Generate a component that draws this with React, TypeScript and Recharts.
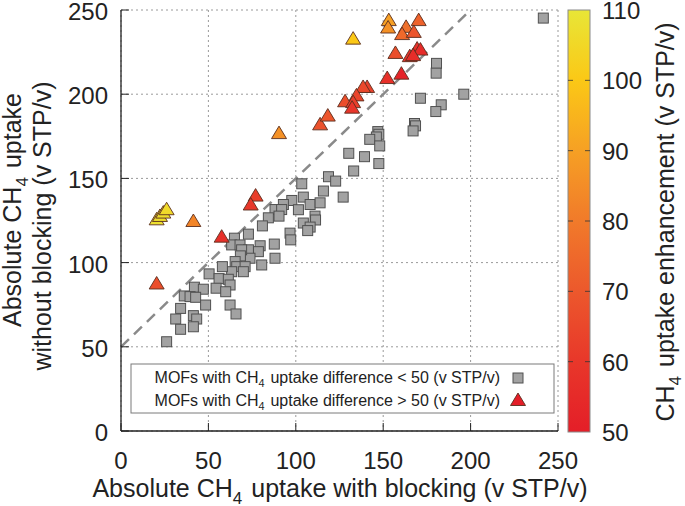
import React from "react";
import { ScatterChart, Scatter, XAxis, YAxis, CartesianGrid, ReferenceLine } from "recharts";

const FONT = '"Liberation Sans", Arial, Helvetica, sans-serif';

const axisTicks = [0, 50, 100, 150, 200, 250];
const colorTicks = [50, 60, 70, 80, 90, 100, 110];

// MOFs with CH4 uptake difference < 50 : [with blocking, without blocking]
const smallDiffMOFs: [number, number][] = [
  [241.6, 245.2], [180.5, 218.3], [180.3, 212.5], [196.1, 200], [171.3, 197.6], [183.2, 193.7],
  [180.1, 189.7], [167.9, 182.6], [168.5, 181.2], [167.1, 178.2], [146.9, 177.8], [147.5, 176.2],
  [146.1, 174.6], [142.3, 173.2], [148, 169.3], [130.3, 164.9], [139.3, 162.9], [147.5, 158.8],
  [133.1, 154.4], [127.1, 138.9], [103.4, 146.8], [118.7, 151], [122.8, 148.4], [115.8, 142.5],
  [104.3, 138.9], [97.7, 136.9], [92.9, 134.5], [101.5, 131.4], [108.2, 134.5], [113.9, 135.5],
  [88.1, 131.5], [91.9, 131.5], [84.3, 126.6], [90.4, 127.6], [111, 127.6], [111.3, 125.3],
  [104.3, 123.5], [108.2, 121.1], [106.8, 119], [80.9, 121.8], [72.9, 116.9], [64.9, 114.5],
  [63.3, 110.5], [68.1, 110.5], [79.6, 110], [78.6, 106.5], [72.9, 107.6], [73.8, 102.6],
  [87.7, 111], [96.7, 117.5], [97.1, 113.5], [88.1, 102.6], [80.5, 98.6], [69, 107.6],
  [68.3, 104], [65.3, 100.6], [66.2, 97.6], [71, 97.6], [70, 94.6], [63.3, 94.6], [58, 97.6],
  [50.4, 93.3], [56.1, 90.5], [61.4, 90.1], [62.4, 86.7], [54.4, 84.8], [59.9, 82.7],
  [42, 85.4], [47.1, 84.2], [36.2, 80.2], [39.5, 79.8], [42.7, 79.4], [48.4, 74.8],
  [34.1, 72.8], [62.4, 74.8], [65.8, 69.5], [31.3, 66.5], [41.4, 68.5], [43.3, 66.5],
  [41.4, 61.9], [34.1, 60.4], [26.1, 53],
];

// MOFs with CH4 uptake difference > 50 : [with blocking, without blocking, enhancement]
const largeDiffMOFs: [number, number, number][] = [
  [20.4, 125.4, 108], [22.3, 127.4, 107], [24.2, 129.4, 107], [26.1, 131.4, 106],
  [41.4, 124.4, 83], [20.4, 87.3, 67], [57.6, 115.1, 57], [77, 139.5, 62], [74.2, 134.2, 60],
  [90.4, 176.6, 86], [113.9, 181.8, 68], [118.3, 187, 69], [128.2, 195.5, 67],
  [132.8, 232.7, 100], [153.2, 243.7, 90], [152.8, 239.3, 86], [170.3, 243.7, 73],
  [163.1, 239.7, 77], [160.8, 235.4, 75], [167.5, 236.7, 69], [157, 224.2, 67],
  [169.4, 226.8, 57], [171.3, 226.2, 55], [165.2, 222.3, 57], [167.1, 222.9, 56],
  [160.4, 211.9, 52], [152.3, 209.3, 57], [140.8, 204, 63], [138.5, 204, 65],
  [134.7, 199, 64], [132.8, 195, 62], [132.2, 191.7, 59],
];

const parityLine = [{ x: 0, y: 50 }, { x: 200, y: 250 }];

const squareData = smallDiffMOFs.map(([x, y]) => ({ x, y }));
const triangleData = largeDiffMOFs.map(([x, y, c]) => ({ x, y, c }));

const colorStops: [number, [number, number, number]][] = [
  [50, [228, 30, 40]],
  [60, [232, 55, 42]],
  [70, [236, 88, 44]],
  [80, [241, 122, 42]],
  [90, [246, 160, 36]],
  [100, [251, 200, 22]],
  [110, [232, 230, 55]],
];

function colorFor(v: number): string {
  const c = Math.max(50, Math.min(110, v));
  for (let i = 0; i < colorStops.length - 1; i++) {
    const [a, ca] = colorStops[i];
    const [b, cb] = colorStops[i + 1];
    if (c >= a && c <= b) {
      const t = (c - a) / (b - a);
      const m = ca.map((k, j) => Math.round(k + (cb[j] - k) * t));
      return `rgb(${m[0]},${m[1]},${m[2]})`;
    }
  }
  return "rgb(228,30,40)";
}

const SquareShape = (p: any) => (
  <rect x={p.cx - 5} y={p.cy - 5} width={10} height={10} fill="#a2a2a2" stroke="#505050" strokeWidth={1} />
);

const TriangleShape = (p: any) => (
  <path
    d={`M${p.cx},${p.cy - 7.5} L${p.cx + 7.5},${p.cy + 5} L${p.cx - 7.5},${p.cy + 5} Z`}
    fill={colorFor(p.payload.c)}
    stroke="#5a2e1e"
    strokeWidth={0.9}
  />
);

const XTick = (p: any) => (
  <text x={p.x} y={p.y} textAnchor="middle" fontSize={24} fontFamily={FONT} fill="#222">
    {p.payload.value}
  </text>
);

const YTick = (p: any) => (
  <text x={p.x} y={p.y + 10} textAnchor="end" fontSize={24} fontFamily={FONT} fill="#222">
    {p.payload.value}
  </text>
);

const Sub = ({ children, size }: { children: React.ReactNode; size: number }) => (
  <>
    <tspan dy={size * 0.28} fontSize={size * 0.68}>{children}</tspan>
    <tspan dy={-size * 0.28}>{"\u200a"}</tspan>
  </>
);

export default function App() {
  const barX = 568;
  const barW = 22;
  const barTop = 10;
  const barBot = 432;
  const barY = (v: number) => barBot - ((v - 50) / 60) * (barBot - barTop);
  return (
    <div style={{ position: "absolute", left: 0, top: 0, width: 685, height: 506, background: "#fff" }}>
      <ScatterChart width={685} height={506} margin={{ top: 10, right: 127, bottom: 0, left: 0 }}>
        <CartesianGrid stroke="#9a9a9a" strokeDasharray="2 3" strokeWidth={1} />
        <XAxis
          dataKey="x"
          type="number"
          domain={[0, 250]}
          ticks={axisTicks}
          interval={0}
          height={75}
          tickSize={-8}
          tickMargin={46}
          tick={XTick}
          axisLine={{ stroke: "#222", strokeWidth: 1.3 }}
          tickLine={{ stroke: "#222", strokeWidth: 1 }}
        />
        <XAxis
          xAxisId="top"
          orientation="top"
          dataKey="x"
          type="number"
          domain={[0, 250]}
          ticks={axisTicks}
          interval={0}
          height={0}
          tickSize={-8}
          tick={false}
          axisLine={{ stroke: "#222", strokeWidth: 1.3 }}
          tickLine={{ stroke: "#222", strokeWidth: 1 }}
        />
        <YAxis
          dataKey="y"
          type="number"
          domain={[0, 250]}
          ticks={axisTicks}
          interval={0}
          width={121}
          tickSize={-8}
          tickMargin={21}
          tick={YTick}
          axisLine={{ stroke: "#222", strokeWidth: 1.3 }}
          tickLine={{ stroke: "#222", strokeWidth: 1 }}
        />
        <YAxis
          yAxisId="right"
          orientation="right"
          dataKey="y"
          type="number"
          domain={[0, 250]}
          ticks={axisTicks}
          interval={0}
          width={0}
          tickSize={-8}
          tick={false}
          axisLine={{ stroke: "#222", strokeWidth: 1.3 }}
          tickLine={{ stroke: "#222", strokeWidth: 1 }}
        />
        <ReferenceLine
          segment={parityLine}
          stroke="#8a8a8a"
          strokeWidth={2.5}
          strokeDasharray="11 7"
          ifOverflow="visible"
        />
        <Scatter data={squareData} shape={SquareShape} isAnimationActive={false} />
        <Scatter data={triangleData} shape={TriangleShape} isAnimationActive={false} />
      </ScatterChart>
      <svg
        width={685}
        height={506}
        style={{ position: "absolute", left: 0, top: 0, pointerEvents: "none" }}
        fontFamily={FONT}
      >
        <defs>
          <linearGradient id="cbar" x1="0" y1="1" x2="0" y2="0">
            {colorStops.map(([v, c]) => (
              <stop key={v} offset={`${((v - 50) / 60) * 100}%`} stopColor={`rgb(${c[0]},${c[1]},${c[2]})`} />
            ))}
          </linearGradient>
        </defs>
        {/* legend */}
        <rect x={131} y={364} width={423} height={49} fill="#fff" stroke="#7a7a7a" strokeWidth={1} />
        <text x={500} y={383} textAnchor="end" fontSize={16} fill="#222">
          MOFs with CH<Sub size={16}>4</Sub> uptake difference &lt; 50 (v STP/v)
        </text>
        <text x={500} y={406} textAnchor="end" fontSize={16} fill="#222">
          MOFs with CH<Sub size={16}>4</Sub> uptake difference &gt; 50 (v STP/v)
        </text>
        <rect x={513} y={373} width={10} height={10} fill="#a2a2a2" stroke="#505050" strokeWidth={1} />
        <path d="M518,393 L525.5,405.5 L510.5,405.5 Z" fill={colorFor(50)} stroke="#5a2e1e" strokeWidth={0.9} />
        {/* colour bar */}
        <rect x={barX} y={barTop} width={barW} height={barBot - barTop} fill="url(#cbar)" stroke="#8a8a8a" strokeWidth={1} />
        {colorTicks.slice(1, -1).map((v) => (
          <g key={v}>
            <line x1={barX} x2={barX + 5} y1={barY(v)} y2={barY(v)} stroke="#333" strokeWidth={0.8} />
            <line x1={barX + barW - 5} x2={barX + barW} y1={barY(v)} y2={barY(v)} stroke="#333" strokeWidth={0.8} />
          </g>
        ))}
        {colorTicks.map((v) => (
          <text key={v} x={602} y={barY(v) + 9} fontSize={24} fill="#222">
            {v}
          </text>
        ))}
        <text transform="translate(674,222) rotate(-90)" textAnchor="middle" fontSize={25} fill="#222">
          CH<Sub size={25}>4</Sub> uptake enhancement (v STP/v)
        </text>
        {/* axis titles */}
        <text transform="translate(21,210) rotate(-90)" textAnchor="middle" fontSize={25} fill="#222">
          Absolute CH<Sub size={25}>4</Sub> uptake
        </text>
        <text transform="translate(51,226) rotate(-90)" textAnchor="middle" fontSize={25} fill="#222">
          without blocking (v STP/v)
        </text>
        <text x={340} y={497} textAnchor="middle" fontSize={25} fill="#222">
          Absolute CH<Sub size={25}>4</Sub> uptake with blocking (v STP/v)
        </text>
      </svg>
    </div>
  );
}
